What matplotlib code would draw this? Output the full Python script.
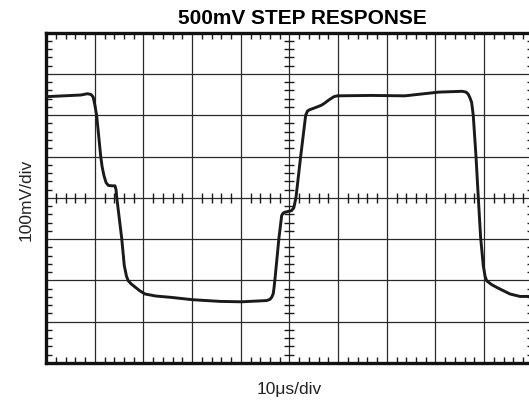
import numpy as np
import matplotlib
matplotlib.use("Agg")
import matplotlib.pyplot as plt

plt.rcParams['font.family'] = ['Liberation Sans', 'DejaVu Sans']

# trace, in divisions (x: 10us/div, y: 100mV/div)
t_div = [0.0, 0.715, 0.84, 0.90, 0.935, 0.968, 1.0, 1.038, 1.12, 1.15,
         1.188, 1.23, 1.276, 1.35, 1.414, 1.435, 1.449, 1.552, 1.605, 1.65,
         1.687, 1.75, 1.825, 1.92, 2.03, 2.25, 2.544, 3.017, 3.572, 4.018,
         4.531, 4.6, 4.634, 4.665, 4.681, 4.702, 4.784, 4.84, 4.87, 4.907,
         5.045, 5.09, 5.134, 5.23, 5.333, 5.37, 5.407, 5.567, 5.65, 5.707,
         5.81, 5.914, 5.984, 6.677, 7.372, 8.064, 8.549, 8.63, 8.674, 8.71,
         8.744, 8.777, 8.833, 8.88, 8.929, 8.983, 9.02, 9.053, 9.15, 9.258,
         9.531, 9.737, 9.92, 10.0]
v_div = [2.45, 2.49, 2.52, 2.51, 2.49, 2.43, 2.25, 1.99, 1.01, 0.75,
         0.535, 0.37, 0.30, 0.29, 0.29, 0.20, 0.02, -0.98, -1.64, -1.90,
         -2.01, -2.09, -2.16, -2.25, -2.33, -2.38, -2.41, -2.47, -2.51, -2.52,
         -2.49, -2.46, -2.41, -2.33, -2.20, -1.97, -0.97, -0.43, -0.37, -0.35,
         -0.31, -0.24, 0.01, 1.00, 2.00, 2.10, 2.13, 2.20, 2.24, 2.28,
         2.37, 2.45, 2.47, 2.48, 2.47, 2.56, 2.58, 2.56, 2.51, 2.42,
         2.31, 2.00, 1.01, 0.02, -0.97, -1.64, -1.90, -2.01, -2.10, -2.17,
         -2.33, -2.39, -2.39, -2.39]

title = "500mV STEP RESPONSE"
xlabel = "10\u03bcs/div"
ylabel = "100mV/div"

fig = plt.figure(figsize=(5.29, 4.02), dpi=100)
ax = fig.add_axes([0.0873, 0.0948, 0.9198, 0.8214])
ax.set_xlim(0, 10)
ax.set_ylim(-4, 4)

# graticule
for xv in range(1, 10):
    ax.axvline(xv, color='#2a2a2a', lw=0.9, zorder=1)
for yv in range(-3, 4):
    ax.axhline(yv, color='#2a2a2a', lw=0.9, zorder=1)

minor_x = [v for v in np.arange(0, 10.01, 0.2) if abs(v - round(v)) > 1e-6]
minor_y = [v for v in np.arange(-4, 4.01, 0.2) if abs(v - round(v)) > 1e-6]

ax.set_xticks(minor_x)
ax.set_yticks(minor_y)
ax.set_xticklabels([])
ax.set_yticklabels([])
ax.tick_params(axis='both', direction='in', length=4.5, width=1.0, color='#1a1a1a',
               top=True, right=True, bottom=True, left=True)

# centre cross ticks
ax.plot(minor_x, np.zeros(len(minor_x)), ls='none', marker='|', ms=7, mew=1.0,
        color='#1a1a1a', zorder=2)
ax.plot(np.full(len(minor_y), 5.0), minor_y, ls='none', marker='_', ms=7, mew=1.0,
        color='#1a1a1a', zorder=2)

for s in ['left', 'top', 'bottom', 'right']:
    ax.spines[s].set_linewidth(2.4)
    ax.spines[s].set_color('#111111')

ax.plot(t_div, v_div, color='#1a1a1a', lw=2.1, solid_joinstyle='round',
        solid_capstyle='round', zorder=3)

fig.text(302.8 / 529, 1 - 19 / 402, title, ha='center', va='center',
         fontsize=15, fontweight='bold')
fig.text(289.3 / 529, 1 - 390 / 402, xlabel, ha='center', va='center', fontsize=12.5,
         color='#222222')
fig.text(26 / 529, 1 - 199.5 / 402, ylabel, ha='center', va='center', fontsize=12.5,
         rotation=90, color='#222222')

fig.savefig("out.png", dpi=100)
